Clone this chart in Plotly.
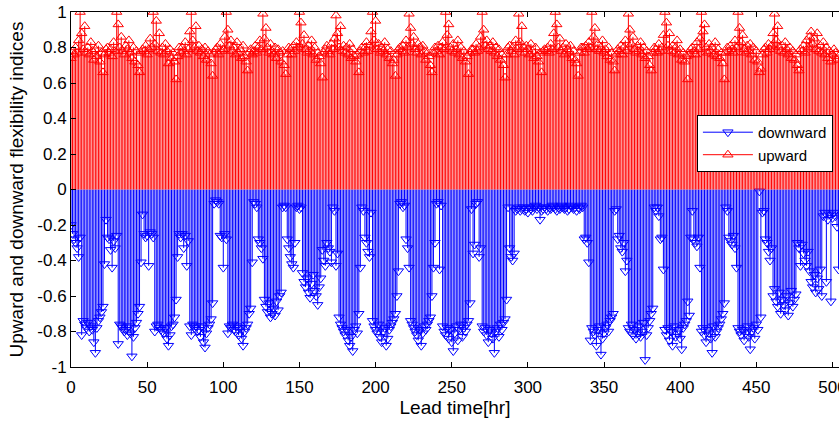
import plotly.graph_objects as go

# lead time, hours
HOURS = list(range(0, 505))

# upward flexibility index, one row per day (24 h)
UPWARD = [
    0.74, 0.78, 0.76, 0.80, 0.77, 0.84, 1.00, 0.88, 0.79, 0.92, 0.77, 0.80, 0.76, 0.83, 0.78, 0.73, 0.79, 0.75, 0.81, 0.72, 0.77, 0.66, 0.76, 0.79,
    0.80, 0.77, 0.79, 0.75, 0.83, 0.78, 1.00, 0.93, 0.80, 0.86, 0.78, 0.76, 0.81, 0.79, 0.84, 0.77, 0.74, 0.80, 0.72, 0.78, 0.70, 0.66, 0.77, 0.79,
    0.78, 0.81, 0.76, 0.79, 0.85, 0.80, 1.00, 0.82, 0.95, 0.78, 0.88, 0.77, 0.80, 0.76, 0.82, 0.78, 0.71, 0.79, 0.74, 0.77, 0.72, 0.62, 0.75, 0.80,
    0.77, 0.80, 0.78, 0.83, 0.76, 0.79, 0.89, 1.00, 0.84, 0.80, 0.92, 0.78, 0.81, 0.77, 0.79, 0.75, 0.80, 0.73, 0.78, 0.76, 0.71, 0.64, 0.77, 0.79,
    0.80, 0.76, 0.82, 0.78, 0.79, 0.86, 1.00, 0.90, 0.81, 0.84, 0.78, 0.80, 0.76, 0.83, 0.77, 0.79, 0.74, 0.81, 0.75, 0.72, 0.67, 0.77, 0.79, 0.76,
    0.78, 0.81, 0.77, 0.80, 0.84, 0.79, 0.99, 0.85, 0.91, 0.80, 0.77, 0.82, 0.78, 0.76, 0.80, 0.74, 0.79, 0.77, 0.72, 0.78, 0.70, 0.65, 0.76, 0.80,
    0.79, 0.76, 0.81, 0.78, 0.83, 0.80, 1.00, 0.94, 0.82, 0.87, 0.79, 0.77, 0.81, 0.78, 0.84, 0.76, 0.80, 0.73, 0.77, 0.75, 0.71, 0.63, 0.77, 0.79,
    0.81, 0.78, 0.76, 0.82, 0.79, 0.85, 0.98, 0.88, 0.80, 0.92, 0.78, 0.81, 0.77, 0.80, 0.76, 0.82, 0.74, 0.79, 0.75, 0.72, 0.76, 0.66, 0.78, 0.80,
    0.77, 0.80, 0.83, 0.78, 0.81, 0.89, 1.00, 0.84, 0.95, 0.79, 0.82, 0.77, 0.80, 0.78, 0.83, 0.76, 0.79, 0.74, 0.78, 0.71, 0.73, 0.64, 0.76, 0.79,
    0.80, 0.78, 0.81, 0.77, 0.84, 0.80, 0.99, 0.91, 0.82, 0.86, 0.79, 0.77, 0.82, 0.80, 0.76, 0.81, 0.78, 0.73, 0.77, 0.75, 0.70, 0.66, 0.77, 0.80,
    0.78, 0.81, 0.76, 0.80, 0.83, 0.79, 1.00, 0.87, 0.93, 0.80, 0.78, 0.82, 0.77, 0.79, 0.84, 0.76, 0.80, 0.74, 0.78, 0.72, 0.75, 0.65, 0.77, 0.79,
    0.79, 0.77, 0.82, 0.78, 0.80, 0.86, 1.00, 0.90, 0.81, 0.84, 0.79, 0.81, 0.78, 0.83, 0.77, 0.80, 0.75, 0.79, 0.73, 0.76, 0.70, 0.63, 0.76, 0.80,
    0.81, 0.78, 0.80, 0.76, 0.84, 0.79, 0.99, 0.83, 0.92, 0.80, 0.77, 0.81, 0.79, 0.76, 0.82, 0.78, 0.74, 0.80, 0.75, 0.72, 0.77, 0.66, 0.78, 0.79,
    0.78, 0.80, 0.77, 0.82, 0.79, 0.88, 1.00, 0.93, 0.80, 0.85, 0.78, 0.80, 0.76, 0.82, 0.79, 0.77, 0.81, 0.74, 0.78, 0.73, 0.71, 0.64, 0.77, 0.80,
    0.80, 0.77, 0.81, 0.79, 0.83, 0.80, 1.00, 0.86, 0.91, 0.79, 0.82, 0.78, 0.80, 0.84, 0.77, 0.79, 0.75, 0.80, 0.73, 0.77, 0.72, 0.67, 0.76, 0.79,
    0.78, 0.81, 0.76, 0.80, 0.84, 0.78, 0.99, 0.90, 0.82, 0.86, 0.79, 0.77, 0.81, 0.78, 0.83, 0.76, 0.80, 0.74, 0.78, 0.75, 0.70, 0.67, 0.77, 0.80,
    0.79, 0.77, 0.82, 0.78, 0.80, 0.87, 1.00, 0.94, 0.81, 0.88, 0.78, 0.81, 0.77, 0.80, 0.84, 0.76, 0.79, 0.73, 0.77, 0.72, 0.75, 0.62, 0.76, 0.79,
    0.80, 0.78, 0.76, 0.83, 0.79, 0.85, 1.00, 0.89, 0.93, 0.80, 0.77, 0.82, 0.78, 0.80, 0.76, 0.83, 0.75, 0.79, 0.74, 0.77, 0.71, 0.62, 0.77, 0.80,
    0.78, 0.81, 0.79, 0.77, 0.84, 0.80, 1.00, 0.91, 0.83, 0.87, 0.79, 0.77, 0.81, 0.78, 0.82, 0.76, 0.80, 0.73, 0.78, 0.72, 0.66, 0.68, 0.76, 0.79,
    0.80, 0.77, 0.82, 0.79, 0.81, 0.88, 0.99, 0.84, 0.92, 0.80, 0.78, 0.81, 0.77, 0.83, 0.79, 0.76, 0.80, 0.74, 0.78, 0.73, 0.76, 0.70, 0.67, 0.79,
    0.78, 0.81, 0.77, 0.84, 0.80, 0.86, 0.89, 0.82, 0.85, 0.79, 0.88, 0.78, 0.81, 0.77, 0.83, 0.76, 0.80, 0.74, 0.78, 0.72, 0.76, 0.79, 0.77, 0.73,
    0.75,
]

# downward flexibility index, one row per day (24 h)
DOWNWARD = [
    -0.20, -0.25, -0.28, -0.30, -0.33, -0.38, -0.27, -0.82, -0.74, -0.76, -0.78, -0.75, -0.80, -0.77, -0.79, -0.86, -0.92, -0.78, -0.74, -0.72, -0.69, -0.66, -0.42, -0.17,
    -0.27, -0.28, -0.34, -0.44, -0.29, -0.33, -0.26, -0.87, -0.76, -0.77, -0.78, -0.80, -0.79, -0.82, -0.77, -0.81, -0.94, -0.83, -0.78, -0.75, -0.70, -0.66, -0.41, -0.14,
    -0.25, -0.27, -0.26, -0.43, -0.24, -0.25, -0.27, -0.80, -0.77, -0.76, -0.78, -0.79, -0.80, -0.81, -0.78, -0.84, -0.88, -0.82, -0.77, -0.76, -0.72, -0.62, -0.38, -0.25,
    -0.27, -0.25, -0.33, -0.26, -0.43, -0.29, -0.77, -0.82, -0.76, -0.78, -0.77, -0.80, -0.79, -0.83, -0.77, -0.86, -0.89, -0.81, -0.78, -0.76, -0.73, -0.64, -0.08, -0.06,
    -0.07, -0.08, -0.26, -0.27, -0.44, -0.25, -0.28, -0.81, -0.77, -0.78, -0.76, -0.79, -0.80, -0.77, -0.82, -0.78, -0.84, -0.88, -0.80, -0.78, -0.76, -0.70, -0.67, -0.41,
    -0.07, -0.08, -0.10, -0.28, -0.30, -0.33, -0.39, -0.62, -0.66, -0.69, -0.64, -0.72, -0.70, -0.67, -0.71, -0.63, -0.68, -0.60, -0.58, -0.10, -0.09, -0.10, -0.28, -0.33,
    -0.38, -0.42, -0.44, -0.30, -0.10, -0.09, -0.11, -0.10, -0.47, -0.52, -0.55, -0.50, -0.58, -0.61, -0.53, -0.48, -0.57, -0.60, -0.65, -0.55, -0.50, -0.34, -0.40, -0.43,
    -0.30, -0.33, -0.35, -0.41, -0.10, -0.12, -0.43, -0.36, -0.72, -0.76, -0.78, -0.80, -0.82, -0.79, -0.85, -0.88, -0.83, -0.91, -0.79, -0.77, -0.81, -0.70, -0.44, -0.10,
    -0.12, -0.27, -0.30, -0.35, -0.38, -0.13, -0.74, -0.77, -0.79, -0.81, -0.76, -0.83, -0.86, -0.80, -0.78, -0.88, -0.84, -0.79, -0.77, -0.75, -0.73, -0.70, -0.60, -0.46,
    -0.08, -0.07, -0.10, -0.09, -0.28, -0.33, -0.44, -0.74, -0.76, -0.78, -0.80, -0.82, -0.85, -0.79, -0.88, -0.81, -0.77, -0.79, -0.76, -0.74, -0.72, -0.60, -0.44, -0.30,
    -0.08, -0.07, -0.45, -0.09, -0.77, -0.80, -0.82, -0.78, -0.84, -0.79, -0.86, -0.91, -0.81, -0.77, -0.85, -0.79, -0.76, -0.83, -0.78, -0.80, -0.76, -0.74, -0.64, -0.11,
    -0.36, -0.31, -0.08, -0.07, -0.38, -0.33, -0.77, -0.80, -0.78, -0.82, -0.86, -0.79, -0.81, -0.84, -0.92, -0.80, -0.78, -0.83, -0.76, -0.79, -0.75, -0.73, -0.62, -0.10,
    -0.33, -0.38, -0.40, -0.36, -0.12, -0.11, -0.10, -0.12, -0.11, -0.10, -0.12, -0.11, -0.13, -0.10, -0.11, -0.12, -0.10, -0.09, -0.11, -0.10, -0.17, -0.12, -0.11, -0.10,
    -0.11, -0.12, -0.10, -0.11, -0.09, -0.10, -0.11, -0.12, -0.10, -0.11, -0.09, -0.10, -0.11, -0.10, -0.12, -0.11, -0.09, -0.10, -0.11, -0.10, -0.12, -0.10, -0.11, -0.09,
    -0.10, -0.28, -0.27, -0.30, -0.41, -0.85, -0.78, -0.80, -0.82, -0.88, -0.79, -0.77, -0.93, -0.84, -0.81, -0.78, -0.76, -0.80, -0.74, -0.72, -0.70, -0.12, -0.11, -0.28,
    -0.26, -0.33, -0.35, -0.30, -0.46, -0.40, -0.78, -0.80, -0.76, -0.82, -0.79, -0.84, -0.81, -0.77, -0.83, -0.80, -0.75, -0.96, -0.82, -0.78, -0.74, -0.70, -0.67, -0.10,
    -0.12, -0.10, -0.15, -0.28, -0.27, -0.45, -0.79, -0.82, -0.78, -0.85, -0.80, -0.88, -0.77, -0.83, -0.81, -0.79, -0.84, -0.90, -0.78, -0.76, -0.74, -0.63, -0.71, -0.27,
    -0.12, -0.28, -0.30, -0.32, -0.27, -0.44, -0.80, -0.78, -0.82, -0.86, -0.79, -0.81, -0.84, -0.92, -0.77, -0.83, -0.80, -0.78, -0.76, -0.73, -0.70, -0.64, -0.10, -0.12,
    -0.27, -0.29, -0.31, -0.26, -0.33, -0.44, -0.78, -0.80, -0.82, -0.79, -0.85, -0.81, -0.77, -0.83, -0.90, -0.80, -0.78, -0.84, -0.76, -0.79, -0.01, -0.72, -0.13, -0.12,
    -0.28, -0.30, -0.35, -0.40, -0.33, -0.60, -0.56, -0.63, -0.66, -0.58, -0.70, -0.62, -0.65, -0.68, -0.60, -0.71, -0.64, -0.57, -0.66, -0.62, -0.59, -0.30, -0.33, -0.43,
    -0.31, -0.36, -0.40, -0.43, -0.35, -0.46, -0.52, -0.55, -0.48, -0.58, -0.50, -0.56, -0.45, -0.60, -0.15, -0.13, -0.52, -0.17, -0.14, -0.63, -0.16, -0.13, -0.15, -0.21,
    -0.45,
]

X_TICKS = [0, 50, 100, 150, 200, 250, 300, 350, 400, 450, 500]
Y_TICKS = [-1, -0.8, -0.6, -0.4, -0.2, 0, 0.2, 0.4, 0.6, 0.8, 1]
Y_TICK_TEXT = ["-1", "-0.8", "-0.6", "-0.4", "-0.2", "0", "0.2", "0.4", "0.6", "0.8", "1"]

BLUE = "#0000ff"
RED = "#ff0000"
FONT = "Arial, 'Liberation Sans', sans-serif"


def stem_xy(xs, ys):
    """Vertical segments from zero to each value, split by gaps."""
    sx, sy = [], []
    for x, y in zip(xs, ys):
        sx += [x, x, None]
        sy += [0, y, None]
    return sx, sy


fig = go.Figure()

for name, values, color, symbol in [
    ("downward", DOWNWARD, BLUE, "triangle-down-open"),
    ("upward", UPWARD, RED, "triangle-up-open"),
]:
    sx, sy = stem_xy(HOURS, values)
    fig.add_trace(go.Scatter(
        x=sx, y=sy, mode="lines", line=dict(color=color, width=1),
        showlegend=False, hoverinfo="skip",
    ))
    fig.add_trace(go.Scatter(
        x=HOURS, y=values, mode="markers", showlegend=False,
        marker=dict(symbol=symbol, size=9, color=color, line=dict(color=color, width=1)),
    ))
    # legend entry only
    fig.add_trace(go.Scatter(
        x=[None], y=[None], mode="lines+markers", name=name,
        line=dict(color=color, width=1),
        marker=dict(symbol=symbol, size=9, color=color, line=dict(color=color, width=1)),
    ))

fig.update_layout(
    width=839,
    height=421,
    margin=dict(l=71, r=0, t=12, b=54),
    paper_bgcolor="white",
    plot_bgcolor="white",
    font=dict(family=FONT, size=17, color="black"),
    xaxis=dict(
        range=[0, 504.3],
        tickvals=X_TICKS,
        ticks="inside",
        ticklen=5,
        tickcolor="black",
        ticklabelstandoff=5,
        ticklabeloverflow="allow",
        showline=True,
        linecolor="black",
        linewidth=1,
        mirror="ticks",
        showgrid=False,
        zeroline=False,
        automargin=False,
        title=dict(text="Lead time[hr]", font=dict(size=19), standoff=4),
    ),
    yaxis=dict(
        range=[-1, 1],
        tickvals=Y_TICKS,
        ticktext=Y_TICK_TEXT,
        ticks="inside",
        ticklen=5,
        tickcolor="black",
        ticklabeloverflow="allow",
        showline=True,
        linecolor="black",
        linewidth=1,
        showgrid=False,
        zeroline=False,
        automargin=False,
        title=dict(text="Upward and downward flexibility indices", font=dict(size=19), standoff=8),
    ),
    legend=dict(
        x=0.815, y=0.71, xanchor="left", yanchor="top",
        bgcolor="white", bordercolor="black", borderwidth=1,
        font=dict(size=15), tracegroupgap=0, itemwidth=50,
    ),
)

# drop the default body margin so the figure sits at the window corner
fig.write_html(
    "out.html",
    config={"displayModeBar": False},
    post_script="document.body.style.margin = '0';",
)
